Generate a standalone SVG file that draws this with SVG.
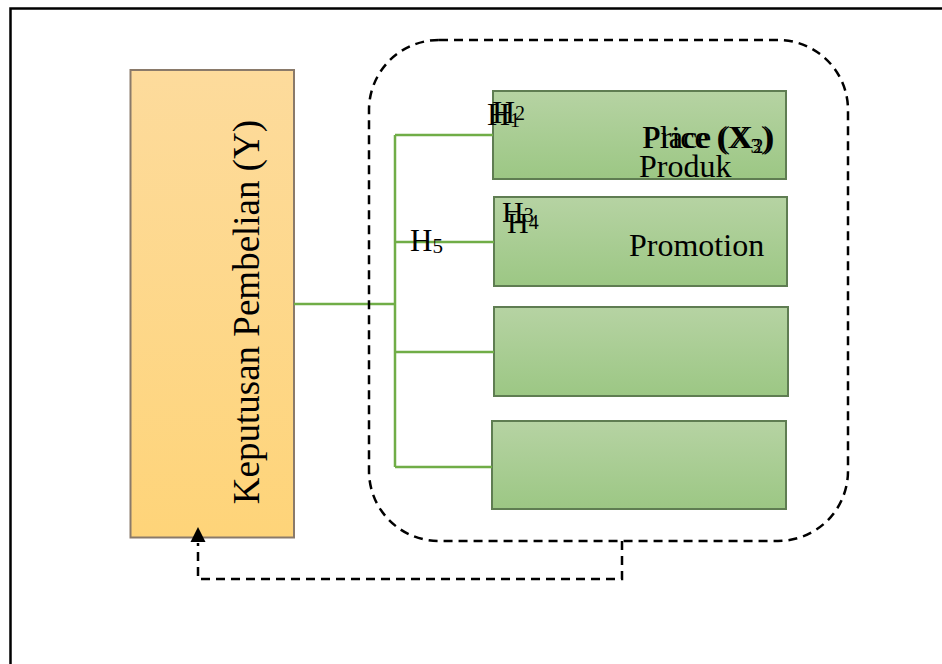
<svg xmlns="http://www.w3.org/2000/svg" width="942" height="664" viewBox="0 0 942 664">
<style>
.t{font-family:"Liberation Serif","Times New Roman",serif;fill:#000}
.g{stroke:#5f7d52;stroke-width:2;fill:url(#gg)}
.c{stroke:#70ad47;stroke-width:2.5;fill:none}
.d{stroke:#000;stroke-width:2.5;fill:none;stroke-dasharray:9 6}
</style>
<defs>
<linearGradient id="gg" x1="0" y1="0" x2="0" y2="1">
<stop offset="0" stop-color="#b6d3a3"/>
<stop offset="1" stop-color="#9cc784"/>
</linearGradient>
<linearGradient id="og" x1="0" y1="0" x2="0" y2="1">
<stop offset="0" stop-color="#fddb9c"/>
<stop offset="1" stop-color="#fed479"/>
</linearGradient>
</defs>
<rect x="10.5" y="8.5" width="940" height="670" fill="#fff" stroke="#000" stroke-width="2.5"/>

<g id="node-y">
<rect x="130.5" y="70" width="163.5" height="467.5" fill="url(#og)" stroke="#8a7a6a" stroke-width="2"/>
<text class="t" font-size="37" text-anchor="middle" transform="translate(259,312) rotate(-90)">Keputusan Pembelian (Y)</text>
</g>

<g id="node-x1">
<rect class="g" x="493" y="91" width="293" height="88"/>
<text class="t" font-size="32" x="642" y="148">Place (X<tspan font-size="21" dy="5">2</tspan><tspan dy="-5">)</tspan></text>
<text class="t" font-size="32" x="643" y="148">Price (X<tspan font-size="21" dy="5">3</tspan><tspan dy="-5">)</tspan></text>
<text class="t" font-size="32" x="639" y="177">Produk</text>
<text class="t" font-size="32" x="487" y="125">H<tspan font-size="20" dy="2">1</tspan></text>
<text class="t" font-size="32" x="492" y="123">H<tspan font-size="20" dy="-3">2</tspan></text>
</g>

<g id="node-x2">
<rect class="g" x="494" y="197" width="293" height="89"/>
<text class="t" font-size="32" x="629" y="256">Promotion</text>
<text class="t" font-size="30" x="502" y="222">H<tspan font-size="20">3</tspan></text>
<text class="t" font-size="30" x="507" y="233">H<tspan font-size="20" dy="-4">4</tspan></text>
</g>

<g id="node-x3">
<rect class="g" x="494" y="307" width="294" height="89"/>
</g>

<g id="node-x4">
<rect class="g" x="492" y="421" width="294" height="88"/>
</g>

<g id="connectors">
<path class="c" d="M294,304 H395 M395,135 V467 M395,135 H493 M395,242 H494 M395,352 H494 M395,467 H492"/>
<rect class="d" x="369" y="40" width="479" height="501" rx="70" ry="70"/>
<path class="d" d="M622,541 V579 H198 V543"/>
<path d="M190.5,542 L198,527 L205.5,542 Z" fill="#000"/>
</g>

<g id="label-h5">
<text class="t" font-size="31" x="410" y="251">H<tspan font-size="21" dy="2">5</tspan></text>
</g>
</svg>
